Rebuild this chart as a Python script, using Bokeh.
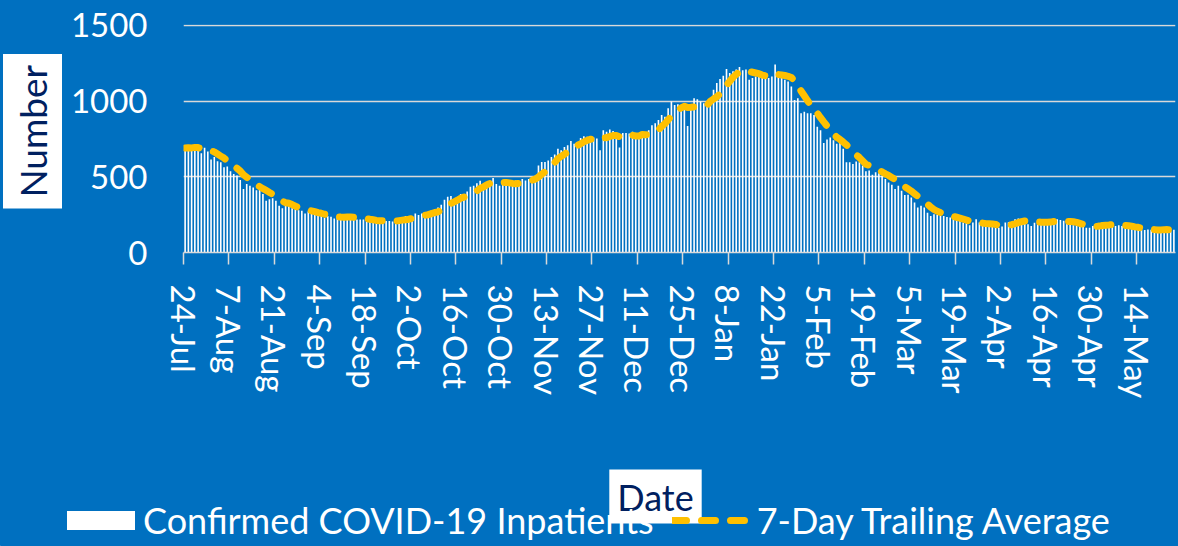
import math
import pandas as pd
from bokeh.plotting import figure
from bokeh.layouts import column, row
from bokeh.models import (Range1d, FixedTicker, Legend, LegendItem, Label,
                          ColumnDataSource)
from bokeh.embed import file_html
from bokeh.resources import INLINE

# ---------------- data ----------------
tick_labels = ["24-Jul", "7-Aug", "21-Aug", "4-Sep", "18-Sep", "2-Oct", "16-Oct",
               "30-Oct", "13-Nov", "27-Nov", "11-Dec", "25-Dec", "8-Jan", "22-Jan",
               "5-Feb", "19-Feb", "5-Mar", "19-Mar", "2-Apr", "16-Apr", "30-Apr",
               "14-May"]
series_names = ["Confirmed COVID-19 Inpatients", "7-Day Trailing Average"]
y_title = "Number"
x_title = "Date"

# daily confirmed COVID-19 inpatients, 24-Jul .. 25-May
inpatients = [
    690, 695, 688, 700, 692, 656, 692, 667, 614, 630,
    603, 596, 563, 568, 537, 519, 508, 479, 419, 452,
    441, 430, 412, 414, 386, 341, 352, 359, 341, 308,
    292, 308, 315, 292, 286, 279, 275, 257, 270, 263,
    257, 241, 251, 229, 240, 236, 225, 229, 229, 245,
    234, 240, 229, 218, 218, 218, 207, 207, 218, 197,
    208, 219, 208, 208, 204, 208, 219, 230, 241, 230,
    241, 257, 248, 257, 252, 263, 279, 286, 297, 315,
    348, 368, 374, 352, 363, 386, 368, 403, 434, 441,
    457, 474, 452, 463, 474, 492, 452, 441, 463, 457,
    441, 450, 475, 471, 486, 475, 486, 497, 502, 575,
    597, 597, 608, 631, 648, 686, 675, 697, 708, 737,
    719, 730, 757, 768, 764, 759, 759, 753, 675, 808,
    797, 813, 802, 764, 693, 790, 790, 786, 797, 768,
    759, 768, 775, 808, 841, 853, 875, 908, 897, 953,
    997, 975, 980, 975, 986, 835, 964, 1019, 1012, 997,
    986, 997, 1012, 1075, 1119, 1146, 1168, 1212, 1186, 1197,
    1208, 1226, 1203, 1208, 1141, 1152, 1163, 1174, 1163, 1168,
    1152, 1163, 1241, 1168, 1152, 1141, 1130, 1097, 1008, 1019,
    919, 930, 919, 919, 908, 830, 808, 724, 746, 759,
    742, 719, 730, 686, 596, 596, 585, 601, 596, 574,
    536, 541, 514, 530, 523, 507, 485, 463, 448, 419,
    441, 408, 379, 381, 363, 330, 297, 308, 297, 263,
    241, 252, 248, 241, 241, 234, 231, 220, 215, 209,
    198, 193, 180, 198, 220, 198, 175, 171, 186, 175,
    175, 164, 171, 198, 200, 202, 220, 224, 209, 202,
    186, 175, 197, 215, 220, 209, 197, 193, 202, 220,
    215, 209, 202, 193, 180, 175, 175, 171, 164, 164,
    175, 180, 193, 202, 186, 175, 186, 175, 180, 175,
    175, 171, 153, 157, 153, 150, 148, 152, 150, 148,
    142, 156, 160, 150, 140, 150,
]

# ---------------- derived ----------------
n_days = len(inpatients)
day_centre = [d + 0.5 for d in range(n_days)]
trailing = pd.Series(inpatients).rolling(7, min_periods=1).mean().tolist()
src = ColumnDataSource(dict(x=day_centre, count=inpatients, avg=trailing))

BG = "#0070C0"
GRID = "#D9D9D9"
NAVY = "#002060"
GOLD = "#FFC000"
FONT = "Lato"

TOP_H = 410          # height of the chart row
LEFT_W = 62          # width of the "Number" strip
W = 1178
H = 546

bar_style = dict(fill_color="white", fill_alpha=1.0, line_color=None)
line_style = dict(line_color=GOLD, line_width=7, line_dash="14 15",
                  line_cap="round", line_join="round")


def blank_fig(w, h):
    f = figure(width=w, height=h, output_backend="svg", toolbar_location=None,
               x_range=Range1d(0, w), y_range=Range1d(0, h),
               x_axis_location=None, y_axis_location=None,
               min_border=0, background_fill_color=BG, border_fill_color=BG,
               outline_line_color=None)
    f.grid.visible = False
    return f


# ---------------- main chart ----------------
p = figure(width=W - LEFT_W, height=TOP_H, output_backend="svg",
           toolbar_location=None,
           x_range=Range1d(0, n_days), y_range=Range1d(0, 1506),
           min_border_left=183 - LEFT_W, min_border_right=3, min_border_top=24,
           min_border_bottom=TOP_H - 252,
           background_fill_color=BG, border_fill_color=BG,
           outline_line_color=None)

bars = p.vbar(x="x", top="count", width=0.5, source=src, **bar_style)
line = p.line(x="x", y="avg", source=src, **line_style)

p.xaxis.ticker = FixedTicker(ticks=[14 * i for i in range(len(tick_labels))])
p.xaxis.major_label_overrides = {14 * i: lab for i, lab in enumerate(tick_labels)}
p.xaxis.major_label_orientation = "vertical"
p.xaxis.major_label_text_font = FONT
p.xaxis.major_label_text_font_size = "33px"
p.xaxis.major_label_text_color = "white"
p.xaxis.major_label_standoff = 20
p.xaxis.axis_line_color = GRID
p.xaxis.axis_line_width = 1.5
p.xaxis.major_tick_line_color = GRID
p.xaxis.major_tick_line_width = 1.5
p.xaxis.major_tick_out = 12
p.xaxis.major_tick_in = 0
p.xaxis.minor_tick_line_color = None

p.yaxis.ticker = FixedTicker(ticks=[0, 500, 1000, 1500])
p.yaxis.major_label_text_font = FONT
p.yaxis.major_label_text_font_size = "33px"
p.yaxis.major_label_text_color = "white"
p.yaxis.major_label_standoff = 36
p.yaxis.axis_line_color = None
p.yaxis.major_tick_line_color = None
p.yaxis.minor_tick_line_color = None
p.yaxis.major_tick_out = 0

p.xgrid.visible = False
p.ygrid.grid_line_color = GRID
p.ygrid.grid_line_width = 1.5

# ---------------- "Number" strip ----------------
left = blank_fig(LEFT_W, TOP_H)
left.add_layout(Label(x=32, y=TOP_H - 192, angle=math.pi / 2, text=y_title,
                      text_align="center", text_baseline="middle",
                      text_font=FONT, text_font_size="37px", text_color=NAVY,
                      background_fill_color="white", padding=(11, 7)))

# ---------------- legend / "Date" strip ----------------
BOT_H = H - TOP_H
bottom = blank_fig(W, BOT_H)
# invisible stand-ins (outside the visible range) that give the legend its swatches
leg_bar = bottom.vbar(x=[-1000], top=[1], width=1, **bar_style)
leg_line = bottom.line(x=[-1000, -999], y=[0, 0], **line_style)
legend = Legend(items=[LegendItem(label=series_names[0], renderers=[leg_bar]),
                       LegendItem(label=series_names[1], renderers=[leg_line])],
                orientation="horizontal", location=(58, 4),
                background_fill_alpha=0, border_line_alpha=0, padding=0, margin=0,
                glyph_width=85, glyph_height=24, label_standoff=0, spacing=18,
                label_text_color="white", label_text_font=FONT,
                label_text_font_size="36px")
bottom.add_layout(legend)
bottom.add_layout(Label(x=655, y=H - 496, text=x_title, text_align="center",
                        text_baseline="middle", text_font=FONT,
                        text_font_size="36px", text_color=NAVY,
                        background_fill_color="white", padding=(8, 5)))

layout = column(row(left, p), bottom)

html = file_html(layout, INLINE)
html = html.replace("</head>",
                    "<style>html,body{background-color:#0070C0;}</style></head>", 1)
open("out.html", "w").write(html)
